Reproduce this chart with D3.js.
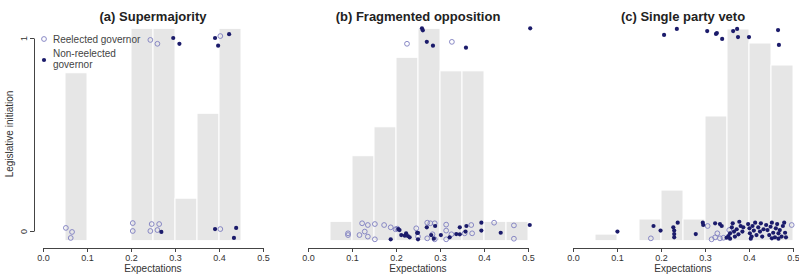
<!doctype html>
<html lang="en">
<head>
<meta charset="utf-8">
<script src="https://d3js.org/d3.v7.min.js"></script>
<title>Legislative initiation by expectations</title>
<style>
  body { margin: 0; background: #fff; }
  svg { display: block; font-family: "Liberation Sans", Arial, sans-serif; }
  .bar { fill: #e6e6e6; stroke: #fff; stroke-width: 1; }
  .axis path, .axis line { stroke: #444; }
  .axis text { fill: #333; font-size: 9px; }
</style>
</head>
<body>
<div id="chart"></div>
<script>
// bins of width 0.05 starting at these values
const binStarts = [0, 0.05, 0.10, 0.15, 0.20, 0.25, 0.30, 0.35, 0.40, 0.45];
const xTicks = [0, 0.1, 0.2, 0.3, 0.4, 0.5];
const titles = ["(a) Supermajority", "(b) Fragmented opposition", "(c) Single party veto"];

// bar tops (bars start at -0.05), null = no bar
const barsA = [null, 0.82, null, null, 1.05, 1.05, 0.17, 0.61, 1.05, null];
const barsB = [null, 0.05, 0.39, 0.54, 0.90, 1.05, 0.83, 0.83, 0.05, 0.05];
const barsC = [null, -0.016, null, 0.062, 0.212, 0.062, 0.596, 1.047, 0.974, 0.86];

// [expectation, jittered initiation]
const reelectedA = [[0.244,0.99],[0.260,0.97],[0.403,1.01],[0.052,0.016],[0.066,-0.005],[0.063,-0.036],
  [0.204,0.041],[0.204,0],[0.247,0.036],[0.244,0],[0.264,0.036],[0.260,0.005],[0.403,0.01]];
const nonReelectedA = [[0.296,1.0],[0.310,0.97],[0.391,1.0],[0.398,0.96],[0.423,1.02],
  [0.269,-0.005],[0.391,0.01],[0.439,0.016],[0.434,-0.036]];

const reelectedB = [[0.225,0.97],[0.327,0.98],
  [0.091,-0.012],[0.091,-0.021],[0.123,0.040],[0.136,0.031],[0.152,0.036],[0.117,-0.021],[0.129,-0.003],
  [0.136,-0.029],[0.152,-0.043],[0.173,0.031],[0.188,0.019],[0.199,0.009],[0.203,0.012],[0.246,0.014],
  [0.250,-0.029],[0.271,0.043],[0.278,0.040],[0.288,0.040],[0.271,-0.038],[0.283,-0.017],[0.288,-0.043],
  [0.314,0.033],[0.314,0.002],[0.314,-0.043],[0.326,-0.017],[0.356,-0.012],[0.371,0.031],[0.373,-0.012],
  [0.423,0.043],[0.468,0.029],[0.468,-0.040]];
const nonReelectedB = [[0.259,1.05],[0.261,1.04],[0.270,0.98],[0.284,0.96],[0.359,0.95],[0.505,1.05],
  [0.188,-0.043],[0.205,0.01],[0.208,0.005],[0.212,-0.021],[0.220,-0.024],[0.223,-0.012],[0.227,-0.026],
  [0.231,-0.033],[0.248,-0.01],[0.250,-0.009],[0.250,-0.043],[0.270,0.019],[0.280,-0.021],[0.286,-0.040],
  [0.289,0.026],[0.302,-0.021],[0.322,-0.033],[0.337,-0.016],[0.345,-0.017],[0.345,0.019],[0.360,0.026],
  [0.358,-0.003],[0.394,0.043],[0.394,0.002],[0.438,-0.009],[0.504,0.031]];

const reelectedC = [[0.177,-0.038],[0.306,0.026],[0.315,-0.043],[0.323,-0.033],[0.328,-0.012],
  [0.334,-0.038],[0.342,-0.035],[0.355,0.005],[0.497,0.031]];
const nonReelectedC = [[0.207,1.016],[0.236,1.047],[0.305,1.036],[0.325,1.021],[0.327,1.026],[0.339,0.995],
  [0.364,1.036],[0.373,1.047],[0.375,1.005],[0.400,1.005],[0.466,1.041],[0.468,0.964],
  [0.101,-0.003],[0.183,0.026],[0.199,0.002],[0.228,0.019],[0.230,0.002],[0.230,-0.016],[0.230,-0.033],
  [0.238,0.043],[0.279,-0.016],[0.295,0.043],[0.296,0.031],[0.323,0.040],[0.334,0.036],[0.338,0.026],
  [0.353,-0.026],[0.357,-0.012],[0.361,0.019],[0.363,0.040],[0.366,-0.003],[0.368,-0.029],[0.372,0.009],
  [0.376,-0.017],[0.378,0.048],[0.381,0.026],[0.357,-0.040],[0.349,-0.035],[0.385,-0.003],[0.387,0.019],
  [0.398,0.036],[0.401,0.014],[0.402,-0.012],[0.406,-0.029],[0.408,0.026],[0.411,0.002],[0.414,0.043],
  [0.417,-0.021],[0.421,0.019],[0.425,-0.003],[0.427,0.040],[0.430,-0.029],[0.404,-0.040],[0.433,0.009],
  [0.439,0.031],[0.442,0.005],[0.446,-0.021],[0.449,0.022],[0.452,0.043],[0.455,-0.009],[0.459,-0.033],
  [0.461,0.014],[0.464,0.036],[0.467,-0.012],[0.470,0.005],[0.474,-0.029],[0.477,0.026],[0.480,0.043],
  [0.482,-0.009],[0.484,-0.033],[0.452,-0.038],[0.467,-0.040]];

const W = 799, H = 278;
const panelLeft = [43, 308, 573];
const panelW = 220;
const barBase = -0.05;
const openCol = "#7d7dc0", fillCol = "#1b1b6b";

const panels = [
  {bars: barsA, re: reelectedA, non: nonReelectedA},
  {bars: barsB, re: reelectedB, non: nonReelectedB},
  {bars: barsC, re: reelectedC, non: nonReelectedC}
];

const svg = d3.select("#chart").append("svg")
  .attr("width", W).attr("height", H);

const y = d3.scaleLinear().domain([0, 1]).range([231, 38]);

panels.forEach((p, k) => {
  const x = d3.scaleLinear().domain([0, 0.5]).range([panelLeft[k], panelLeft[k] + panelW]);
  const g = svg.append("g");

  const barData = binStarts.map((b, i) => ({b: b, top: p.bars[i]})).filter(d => d.top !== null);
  g.selectAll("rect")
    .data(barData)
    .enter()
    .append("rect")
    .attr("class", "bar")
    .attr("x", d => x(d.b))
    .attr("width", d => x(d.b + 0.05) - x(d.b))
    .attr("y", d => y(d.top))
    .attr("height", d => y(barBase) - y(d.top));

  g.append("g")
    .attr("class", "axis")
    .attr("transform", "translate(0,248)")
    .call(d3.axisBottom(x).tickValues(xTicks).tickFormat(d3.format(".1f"))
      .tickSize(4).tickSizeOuter(0).tickPadding(3));

  g.append("text")
    .attr("x", x(0.25)).attr("y", 272)
    .attr("text-anchor", "middle")
    .attr("font-size", 10).attr("fill", "#333")
    .text("Expectations");

  g.append("text")
    .attr("x", x(0.25)).attr("y", 21)
    .attr("text-anchor", "middle")
    .attr("font-size", 13).attr("font-weight", "bold").attr("fill", "#222")
    .text(titles[k]);

  g.selectAll("circle.re")
    .data(p.re)
    .enter()
    .append("circle")
    .attr("class", "re")
    .attr("cx", d => x(d[0])).attr("cy", d => y(d[1]))
    .attr("r", 2.4)
    .attr("fill", "none").attr("stroke", openCol).attr("stroke-width", 0.9);

  g.selectAll("circle.non")
    .data(p.non)
    .enter()
    .append("circle")
    .attr("class", "non")
    .attr("cx", d => x(d[0])).attr("cy", d => y(d[1]))
    .attr("r", 2.1)
    .attr("fill", fillCol);
});

// y axis only on the first panel
const yAxis = svg.append("g")
  .attr("class", "axis")
  .attr("transform", "translate(34,0)")
  .call(d3.axisLeft(y).tickValues([0, 1]).tickFormat(d3.format("d")).tickSize(4).tickSizeOuter(0));
yAxis.selectAll(".tick text")
  .attr("x", 0).attr("dy", 0)
  .attr("text-anchor", "middle")
  .attr("transform", "translate(-7,0) rotate(-90)");

svg.append("text")
  .attr("transform", "translate(13,134) rotate(-90)")
  .attr("text-anchor", "middle")
  .attr("font-size", 10).attr("fill", "#333")
  .text("Legislative initiation");

// legend
const leg = svg.append("g").attr("font-size", 10).attr("fill", "#444");
leg.append("circle").attr("cx", 44).attr("cy", 39).attr("r", 2.4)
  .attr("fill", "none").attr("stroke", openCol).attr("stroke-width", 0.9);
leg.append("text").attr("x", 53).attr("y", 42.5).text("Reelected governor");
leg.append("circle").attr("cx", 44).attr("cy", 60).attr("r", 2.1).attr("fill", fillCol);
leg.append("text").attr("x", 53).attr("y", 56.5).text("Non-reelected");
leg.append("text").attr("x", 53).attr("y", 67.5).text("governor");
</script>
</body>
</html>
